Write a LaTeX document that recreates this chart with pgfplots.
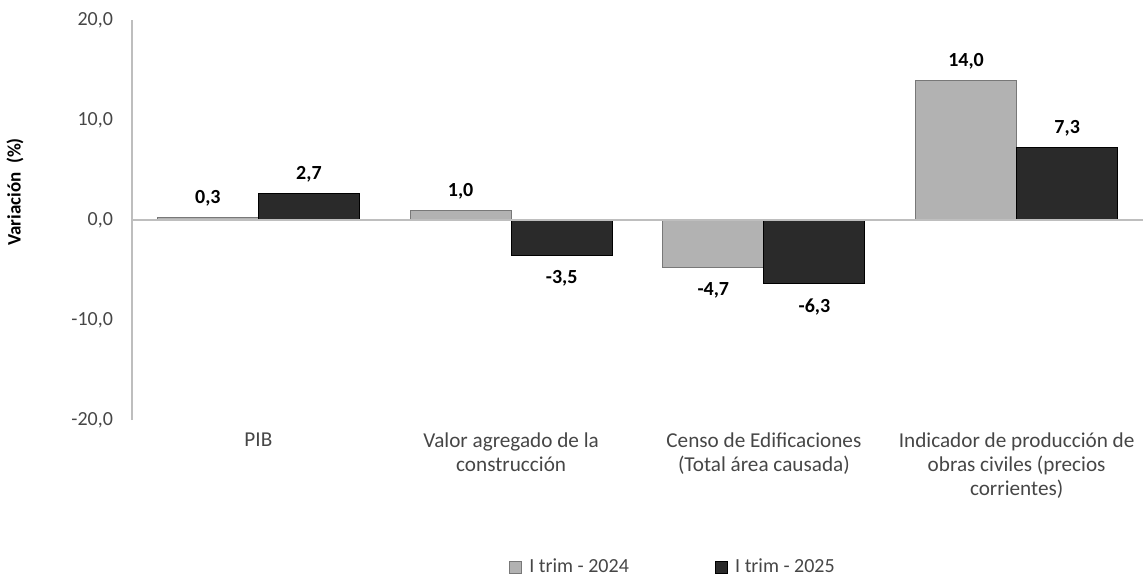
\documentclass[border=0pt]{standalone}
\usepackage{pgfplots}
\pgfplotsset{compat=1.18}
\usepackage{fontspec}
\setmainfont{Carlito}
\definecolor{light}{RGB}{178,178,178}
\definecolor{lightedge}{RGB}{120,120,120}
\definecolor{dark}{RGB}{42,42,42}
\definecolor{axisgray}{RGB}{190,190,190}
\definecolor{textgray}{RGB}{70,70,70}
\begin{document}
\begin{tikzpicture}
\begin{axis}[
  at={(0,0)}, anchor=south west,
  scale only axis, width=505.5pt, height=200pt,
  ybar=0pt, bar width=0.4,
  xmin=-0.5, xmax=3.5, ymin=-20, ymax=20,
  ytick={-20,-10,0,10,20},
  xtick={0,1,2,3},
  xticklabels={PIB,{Valor agregado de la\\construcción},{Censo de Edificaciones\\(Total área causada)},{Indicador de producción de\\obras civiles (precios\\corrientes)}},
  axis y line*=left, axis x line*=bottom,
  x axis line style={draw=none},
  y axis line style={draw=axisgray, line width=0.8pt, -},
  major tick length=0pt,
  tick style={draw=none},
  font=\fontsize{10}{12}\selectfont,
  x tick label style={align=center, text=textgray, yshift=-3pt, font=\fontsize{10.6}{12}\selectfont},
  y tick label style={text=textgray, xshift=-6pt},
  yticklabel style={/pgf/number format/.cd, fixed, fixed zerofill, precision=1, use comma, assume math mode=true},
  ylabel={\bfseries Variación~~(\%)},
  every axis y label/.style={at={(axis description cs:0,0.57)}, xshift=-58.5pt, rotate=90, anchor=center, font=\fontsize{9.5}{12}\selectfont},
  visualization depends on={y \as \rawy},
  nodes near coords={\pgfmathprintnumber[fixed,fixed zerofill,precision=1,use comma,assume math mode=true]{\pgfplotspointmeta}},
  every node near coord/.append style={font=\fontsize{10}{12}\selectfont\bfseries, text=black, anchor=\ifdim\rawy pt<0pt north\else south\fi, inner sep=\ifdim\rawy pt<0pt 7.5pt\else 5pt\fi},
  legend style={at={(0.536,-0.3675)}, anchor=center, legend columns=2, draw=none, font=\fontsize{10}{12}\selectfont, text=textgray,
    /tikz/every even column/.append style={column sep=41pt}},
  legend image code/.code={\draw[#1] (0pt,-3pt) rectangle (6pt,3pt);},
]
\addplot[fill=light, draw=lightedge, line width=0.5pt] coordinates {(0,0.3) (1,1.0) (2,-4.7) (3,14.0)};
\addplot[fill=dark, draw=black, line width=0.5pt] coordinates {(0,2.7) (1,-3.5) (2,-6.3) (3,7.3)};
\draw[axisgray, line width=0.8pt] (axis cs:-0.5,0) -- (axis cs:3.5,0);
\legend{\,I trim - 2024, \,I trim - 2025}
\end{axis}
\pgfresetboundingbox
\path (-66pt,-79.5pt) rectangle (505.5pt,210pt);
\end{tikzpicture}
\end{document}
